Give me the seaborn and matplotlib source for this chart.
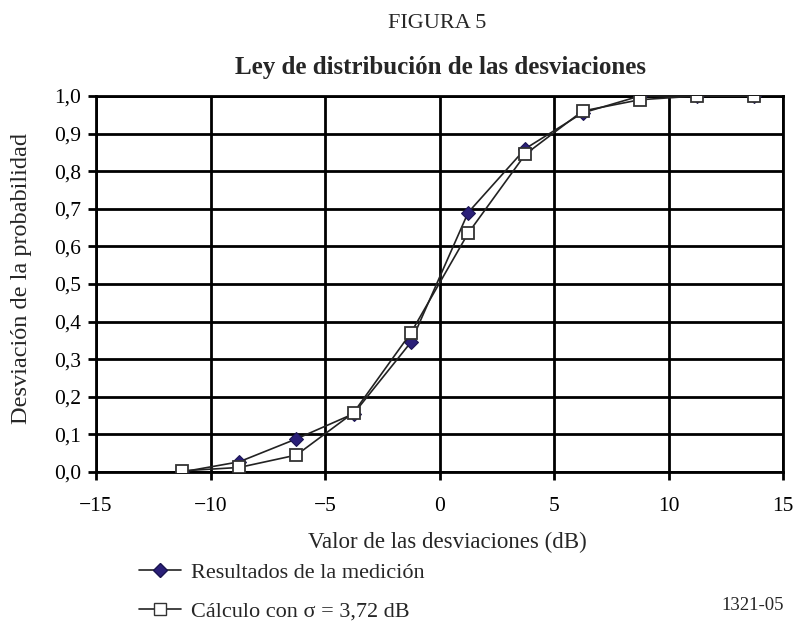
import matplotlib
matplotlib.use("Agg")
import matplotlib.pyplot as plt
import seaborn as sns
import pandas as pd
from matplotlib.lines import Line2D

x_vals = [-11.25, -8.75, -6.25, -3.75, -1.25, 1.25, 3.75, 6.25, 8.75, 11.25, 13.75]
medicion = [0.0, 0.027, 0.088, 0.155, 0.345, 0.69, 0.86, 0.955, 1.0, 1.0, 1.0]
calculo = [0.003, 0.012, 0.045, 0.158, 0.37, 0.635, 0.845, 0.96, 0.99, 1.0, 1.0]
x_ticks = [-15, -10, -5, 0, 5, 10, 15]
y_ticks = [0.0, 0.1, 0.2, 0.3, 0.4, 0.5, 0.6, 0.7, 0.8, 0.9, 1.0]
y_labels = ["0,0", "0,1", "0,2", "0,3", "0,4", "0,5", "0,6", "0,7", "0,8", "0,9", "1,0"]
x_labels = ["\u221215", "\u221210", "\u22125", "0", "5", "10", "15"]

sns.set_theme(style="white")
plt.rcParams['font.family'] = ['Liberation Serif', 'DejaVu Serif']

df_m = pd.DataFrame({"x": x_vals, "y": medicion})
df_c = pd.DataFrame({"x": x_vals, "y": calculo})

fig = plt.figure(figsize=(8.03, 6.22), dpi=100)
ax = fig.add_axes([0.1196, 0.2412, 0.8555, 0.6045])

sns.lineplot(data=df_m, x="x", y="y", ax=ax, color="#222222", linewidth=1.2,
             marker="D", markersize=7, markerfacecolor="#2a1f78",
             markeredgecolor="#1a1450", zorder=3)
sns.lineplot(data=df_c, x="x", y="y", ax=ax, color="#222222", linewidth=1.2,
             marker="s", markersize=9, markerfacecolor="white",
             markeredgecolor="#333333", markeredgewidth=1.3, zorder=4)

ax.set_xlim(-15, 15)
ax.set_ylim(0, 1.0)
ax.set_xticks(x_ticks)
ax.set_xticklabels(x_labels, fontsize=15.5)
ax.set_yticks(y_ticks)
ax.set_yticklabels(y_labels, fontsize=15.5)
ax.grid(True, color="black", linewidth=2)
ax.set_axisbelow(True)
for s in ax.spines.values():
    s.set_color("black")
    s.set_linewidth(2)
ax.tick_params(axis="both", direction="out", length=6, width=2, color="black",
               left=True, bottom=True, labelcolor="black")
ax.tick_params(axis="x", pad=12)
ax.tick_params(axis="y", pad=5)
ax.set_xlabel("Valor de las desviaciones (dB)", fontsize=16.5)
ax.xaxis.set_label_coords(0.511, -0.188)
ax.xaxis.label.set_va("center")
ax.set_ylabel("Desviación de la probabilidad", fontsize=17.5)
ax.yaxis.set_label_coords(-0.108, 0.515)
ax.yaxis.label.set_va("center")

fig.text(0.545, 0.963, "FIGURA 5", ha="center", va="center", fontsize=16)
fig.text(0.548, 0.891, "Ley de distribución de las desviaciones", ha="center",
         va="center", fontsize=18, fontweight="bold")

handles = [
    Line2D([0], [0], color="#222222", linewidth=1.2, marker="D", markersize=7,
           markerfacecolor="#2a1f78", markeredgecolor="#1a1450"),
    Line2D([0], [0], color="#222222", linewidth=1.2, marker="s", markersize=8,
           markerfacecolor="white", markeredgecolor="#333333"),
]
labels = ["Resultados de la medición", "Cálculo con σ = 3,72 dB"]
fig.legend(handles, labels, loc="upper left", bbox_to_anchor=(0.162, 0.11),
           frameon=False, fontsize=16, handlelength=1.9, labelspacing=0.8,
           handletextpad=0.45, borderaxespad=0)
if ax.get_legend() is not None:
    ax.get_legend().remove()

fig.text(0.9375, 0.026, "1321-05", ha="center", va="center", fontsize=13.5)

fig.savefig("out.png", dpi=100)
